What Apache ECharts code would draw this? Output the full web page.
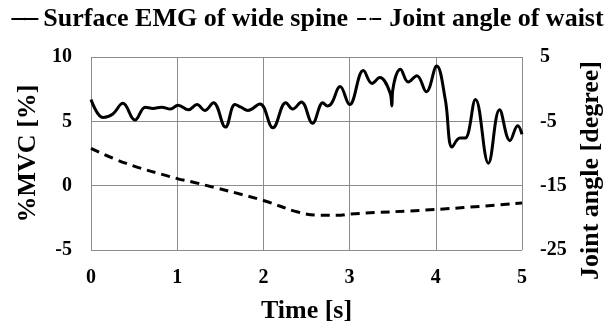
<!DOCTYPE html>
<html>
<head>
<meta charset="utf-8">
<script src="https://cdn.jsdelivr.net/npm/echarts@6/dist/echarts.min.js"></script>
<style>
  html, body { margin: 0; padding: 0; background: #fff; }
  #chart { width: 614px; height: 329px; }
</style>
</head>
<body>
<div id="chart"></div>
<script>
// EMG (%MVC)
const emgTime = [0, 0.14, 0.25, 0.37, 0.51, 0.63, 0.72, 0.82, 0.92, 1.01, 1.13, 1.23, 1.32, 1.42, 1.56, 1.67, 1.74, 1.82, 1.96, 2.11, 2.26, 2.34, 2.44, 2.57, 2.69, 2.74, 2.79, 2.89, 3.0, 3.16, 3.26, 3.35, 3.47, 3.49, 3.5, 3.59, 3.68, 3.78, 3.89, 4.01, 4.11, 4.19, 4.28, 4.34, 4.46, 4.61, 4.74, 4.86, 4.95, 5.0];
const emgValue = [6.7, 5.3, 5.55, 6.4, 5.1, 6.1, 6.0, 6.1, 5.95, 6.25, 5.9, 6.3, 5.85, 6.45, 4.55, 6.3, 6.1, 5.85, 6.35, 4.5, 6.45, 5.95, 6.5, 4.85, 6.45, 6.2, 6.4, 7.7, 6.3, 8.95, 7.95, 8.4, 7.2, 6.2, 7.4, 9.05, 8.05, 8.55, 7.3, 9.3, 6.7, 3.0, 3.7, 3.7, 6.7, 1.75, 5.9, 3.5, 4.65, 4.0];

// joint angle of waist (degree)
const angleTime = [0, 0.4, 1.0, 1.2, 2.0, 2.4, 2.66, 2.9, 3.0, 4.0, 5.0];
const angleValue = [-9.2, -11.5, -13.9, -14.5, -17.3, -19.1, -19.6, -19.6, -19.4, -18.7, -17.7];

const leftTicks = [-5, 0, 5, 10];
const rightTicks = [-25, -15, -5, 5];

const font = 'Liberation Serif';
const nameStyle = { fontFamily: font, fontWeight: 'bold', fontSize: 26, color: '#000' };
const tickStyle = { fontFamily: font, fontWeight: 'bold', fontSize: 20, color: '#000' };
const chart = echarts.init(document.getElementById('chart'));

const option = {
  animation: false,
  legend: {
    top: 1,
    left: 'center',
    itemWidth: 27,
    itemHeight: 3,
    itemGap: 8,
    textStyle: { fontFamily: font, fontWeight: 'bold', fontSize: 26, color: '#000' },
    data: ['Surface EMG of wide spine', 'Joint angle of waist']
  },
  grid: { left: 91, right: 92, top: 57, bottom: 75 },
  xAxis: {
    type: 'value',
    min: 0,
    max: 5,
    interval: 1,
    name: 'Time [s]',
    nameLocation: 'middle',
    nameGap: 48,
    nameTextStyle: nameStyle,
    axisLine: { show: false },
    axisTick: { show: false },
    axisLabel: Object.assign({ margin: 18 }, tickStyle),
    splitLine: { show: true, lineStyle: { color: '#8c8c8c', width: 1 } }
  },
  yAxis: [
    {
      type: 'value',
      min: -5,
      max: 10,
      interval: 5,
      name: '%MVC [%]',
      nameLocation: 'middle',
      nameRotate: 90,
      nameGap: 43,
      nameTextStyle: nameStyle,
      axisLine: { show: false },
      axisTick: { show: false },
      axisLabel: Object.assign({ margin: 19, customValues: leftTicks }, tickStyle),
      splitLine: { show: true, lineStyle: { color: '#8c8c8c', width: 1 } }
    },
    {
      type: 'value',
      position: 'right',
      min: -25,
      max: 5,
      name: 'Joint angle [degree]',
      nameLocation: 'middle',
      nameRotate: 90,
      nameGap: 56,
      nameTextStyle: Object.assign({ padding: [0, 34, 0, 0] }, nameStyle),
      axisLine: { show: false },
      axisTick: { show: false },
      axisLabel: Object.assign({ margin: 18, customValues: rightTicks }, tickStyle),
      splitLine: { show: false }
    }
  ],
  series: [
    {
      name: 'Surface EMG of wide spine',
      type: 'line',
      yAxisIndex: 0,
      symbol: 'none',
      smooth: 0.4,
      lineStyle: { color: '#000', width: 3 },
      itemStyle: { color: '#000' },
      data: emgTime.map((t, i) => [t, emgValue[i]])
    },
    {
      name: 'Joint angle of waist',
      type: 'line',
      yAxisIndex: 1,
      symbol: 'none',
      smooth: 0.4,
      lineStyle: { color: '#000', width: 3, type: [9, 6] },
      itemStyle: { color: '#000' },
      data: angleTime.map((t, i) => [t, angleValue[i]])
    }
  ]
};

chart.setOption(option);
window.addEventListener('resize', () => chart.resize());
</script>
</body>
</html>
